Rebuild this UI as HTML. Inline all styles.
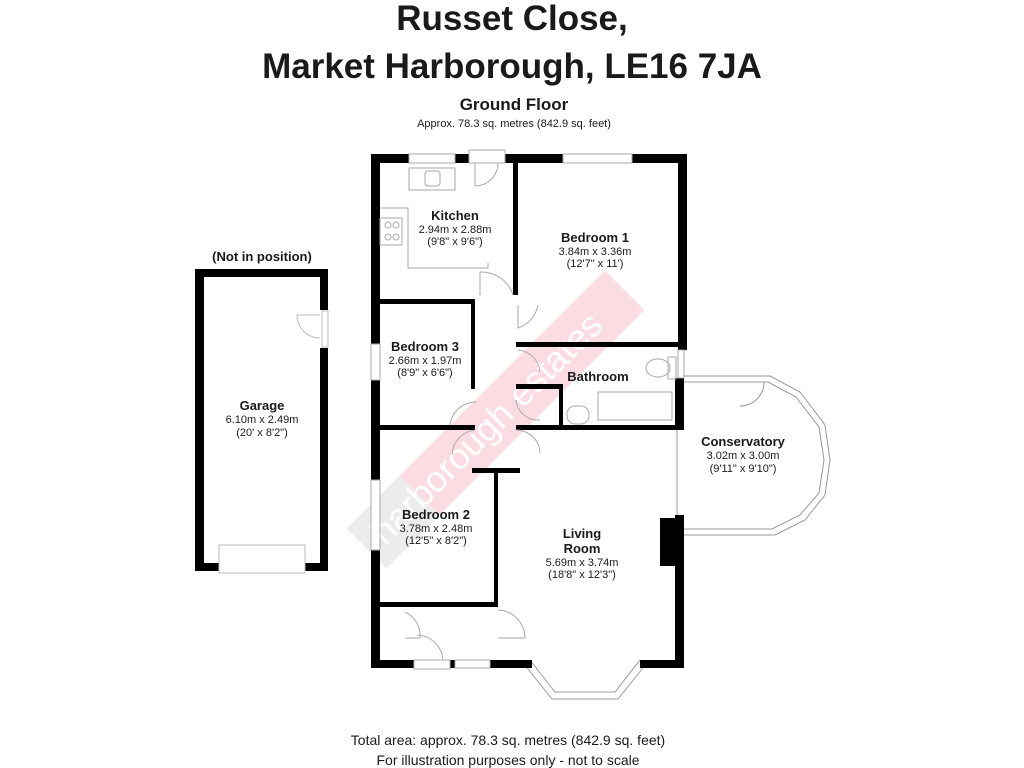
<!DOCTYPE html>
<html><head><meta charset="utf-8"><style>
body{margin:0;background:#fff;width:1024px;height:768px;overflow:hidden}
svg{display:block}
text{font-family:"Liberation Sans",Arial,sans-serif;fill:#1a1a1a}
.b{font-weight:bold}
</style></head><body>
<svg width="1024" height="768" viewBox="0 0 1024 768">
<text x="512" y="30" text-anchor="middle" class="b" font-size="35">Russet Close,</text>
<text x="512" y="78" text-anchor="middle" class="b" font-size="35">Market Harborough, LE16 7JA</text>
<text x="514" y="110" text-anchor="middle" class="b" font-size="17">Ground Floor</text>
<text x="514" y="127" text-anchor="middle" font-size="11">Approx. 78.3 sq. metres (842.9 sq. feet)</text>

<!-- watermark -->
<g transform="translate(515,400) rotate(-45)" opacity="0.4">
<rect x="-135" y="-28" width="290" height="56" fill="#f7a9b8"/>
<rect x="-210" y="-28" width="75" height="56" fill="#d0d0d0"/>
<text x="-40" y="12" text-anchor="middle" font-size="36" style="fill:#fff">harborough estates</text>
</g>

<!-- Garage -->
<text x="262" y="261" text-anchor="middle" class="b" font-size="13">(Not in position)</text>
<g fill="#000">
<rect x="195" y="269" width="133" height="8"/>
<rect x="195" y="269" width="9" height="302"/>
<rect x="320" y="269" width="8" height="41"/>
<rect x="320" y="348" width="8" height="223"/>
<rect x="195" y="563" width="24" height="8"/>
<rect x="305" y="563" width="23" height="8"/>
</g>
<rect x="219" y="545" width="86" height="28" fill="#fff" stroke="#bbb"/>
<rect x="322" y="311" width="6" height="36" fill="#fff" stroke="#bbb"/>
<path d="M320 315 L297 315 A23 23 0 0 0 320 338" fill="none" stroke="#bbb"/>
<text x="262" y="410" text-anchor="middle" class="b" font-size="13">Garage</text>
<text x="262" y="423" text-anchor="middle" font-size="11">6.10m x 2.49m</text>
<text x="262" y="436" text-anchor="middle" font-size="11">(20' x 8'2")</text>

<!-- Conservatory thin outline -->
<g fill="none" stroke="#999" stroke-width="1">
<path d="M683 376 L770 376 L800 392 L825 425 L830 460 L825 495 L805 520 L775 535 L683 535"/>
<path d="M683 382 L768 382 L796 397 L819 427 L824 460 L819 493 L800 515 L772 529 L683 529"/>
<line x1="677" y1="430" x2="677" y2="515"/>
</g>
<path d="M740 382 L764 382 A24 24 0 0 1 740 406" fill="none" stroke="#999"/>
<text x="743" y="446" text-anchor="middle" class="b" font-size="13">Conservatory</text>
<text x="743" y="459" text-anchor="middle" font-size="11">3.02m x 3.00m</text>
<text x="743" y="472" text-anchor="middle" font-size="11">(9'11" x 9'10")</text>

<!-- bay window -->
<g fill="none" stroke="#999">
<path d="M530 660 L555 692 L615 692 L640 660"/>
<path d="M524 664 L552 699 L618 699 L646 664"/>
</g>

<!-- Main walls -->
<g fill="#000">
<rect x="371" y="154" width="38" height="9"/>
<rect x="455" y="154" width="14" height="9"/>
<rect x="505" y="154" width="58" height="9"/>
<rect x="632" y="154" width="55" height="9"/>
<rect x="371" y="154" width="9" height="190"/>
<rect x="371" y="380" width="9" height="100"/>
<rect x="371" y="550" width="9" height="118"/>
<rect x="678" y="154" width="9" height="196"/>
<rect x="675" y="378" width="9" height="52"/>
<rect x="675" y="515" width="9" height="153"/>
<rect x="660" y="518" width="18" height="48"/>
<rect x="371" y="660" width="43" height="8"/>
<rect x="450" y="660" width="5" height="8"/>
<rect x="490" y="660" width="42" height="8"/>
<rect x="640" y="660" width="44" height="8"/>
<rect x="513" y="163" width="5" height="132"/>
<rect x="516" y="342" width="171" height="5"/>
<rect x="371" y="299" width="104" height="5"/>
<rect x="471" y="299" width="4" height="90"/>
<rect x="516" y="384" width="46" height="5"/>
<rect x="559" y="384" width="4" height="45"/>
<rect x="371" y="425" width="104" height="5"/>
<rect x="516" y="425" width="168" height="5"/>
<rect x="472" y="468" width="48" height="5"/>
<rect x="494" y="468" width="4" height="138"/>
<rect x="371" y="602" width="127" height="5"/>
</g>
<g fill="#fff" stroke="#aaa">
<rect x="409" y="154" width="46" height="9"/>
<rect x="469" y="150" width="36" height="13"/>
<rect x="563" y="154" width="69" height="9"/>
<rect x="371" y="344" width="9" height="36"/>
<rect x="371" y="480" width="9" height="70"/>
<rect x="678" y="350" width="6" height="28"/>
<rect x="414" y="660" width="36" height="9"/>
<rect x="455" y="660" width="35" height="8"/>
</g>
<g fill="none" stroke="#aaa">
<path d="M380 208 L408 208 L408 268 L488 268 L488 263"/>
<rect x="409" y="168" width="46" height="22"/>
<rect x="425" y="171" width="15" height="15" rx="3"/>
<rect x="380" y="218" width="22" height="27"/>
<circle cx="388" cy="225" r="3"/><circle cx="396" cy="225" r="3"/>
<circle cx="388" cy="237" r="3"/><circle cx="396" cy="237" r="3"/>
<path d="M475 163 L475 186 A23 23 0 0 0 498 163"/>
<path d="M480 272 L480 295 M480 272 A33 33 0 0 1 513 295"/>
<path d="M518 305 L518 328 A30 30 0 0 0 538 305"/>
<path d="M518 350 A24 24 0 0 1 540 372"/>
<path d="M516 400 A22 22 0 0 0 540 420"/>
<path d="M450 425 A26 26 0 0 1 476 402"/>
<path d="M475 430 A26 26 0 0 0 452 455"/>
<path d="M516 430 A24 24 0 0 1 540 453"/>
<rect x="598" y="392" width="74" height="28"/>
<rect x="567" y="406" width="22" height="18" rx="8"/>
<ellipse cx="658" cy="368" rx="12" ry="9"/>
<rect x="668" y="357" width="8" height="22"/>
<path d="M498 610 A28 28 0 0 1 525 638 L498 638"/>
<path d="M405 612 A26 26 0 0 1 420 638 L405 638"/>
<path d="M417 635 A27 27 0 0 1 443 660 L417 660"/>
</g>

<text x="455" y="220" text-anchor="middle" class="b" font-size="13">Kitchen</text>
<text x="455" y="233" text-anchor="middle" font-size="11">2.94m x 2.88m</text>
<text x="455" y="245" text-anchor="middle" font-size="11">(9'8" x 9'6")</text>
<text x="595" y="242" text-anchor="middle" class="b" font-size="13">Bedroom 1</text>
<text x="595" y="255" text-anchor="middle" font-size="11">3.84m x 3.36m</text>
<text x="595" y="267" text-anchor="middle" font-size="11">(12'7" x 11')</text>
<text x="425" y="351" text-anchor="middle" class="b" font-size="13">Bedroom 3</text>
<text x="425" y="364" text-anchor="middle" font-size="11">2.66m x 1.97m</text>
<text x="425" y="376" text-anchor="middle" font-size="11">(8'9" x 6'6")</text>
<text x="598" y="381" text-anchor="middle" class="b" font-size="13">Bathroom</text>
<text x="436" y="519" text-anchor="middle" class="b" font-size="13">Bedroom 2</text>
<text x="436" y="532" text-anchor="middle" font-size="11">3.78m x 2.48m</text>
<text x="436" y="544" text-anchor="middle" font-size="11">(12'5" x 8'2")</text>
<text x="582" y="538" text-anchor="middle" class="b" font-size="13">Living</text>
<text x="582" y="553" text-anchor="middle" class="b" font-size="13">Room</text>
<text x="582" y="566" text-anchor="middle" font-size="11">5.69m x 3.74m</text>
<text x="582" y="578" text-anchor="middle" font-size="11">(18'8" x 12'3")</text>

<text x="508" y="745" text-anchor="middle" font-size="14">Total area: approx. 78.3 sq. metres (842.9 sq. feet)</text>
<text x="508" y="765" text-anchor="middle" font-size="14">For illustration purposes only - not to scale</text>
</svg>
</body></html>
